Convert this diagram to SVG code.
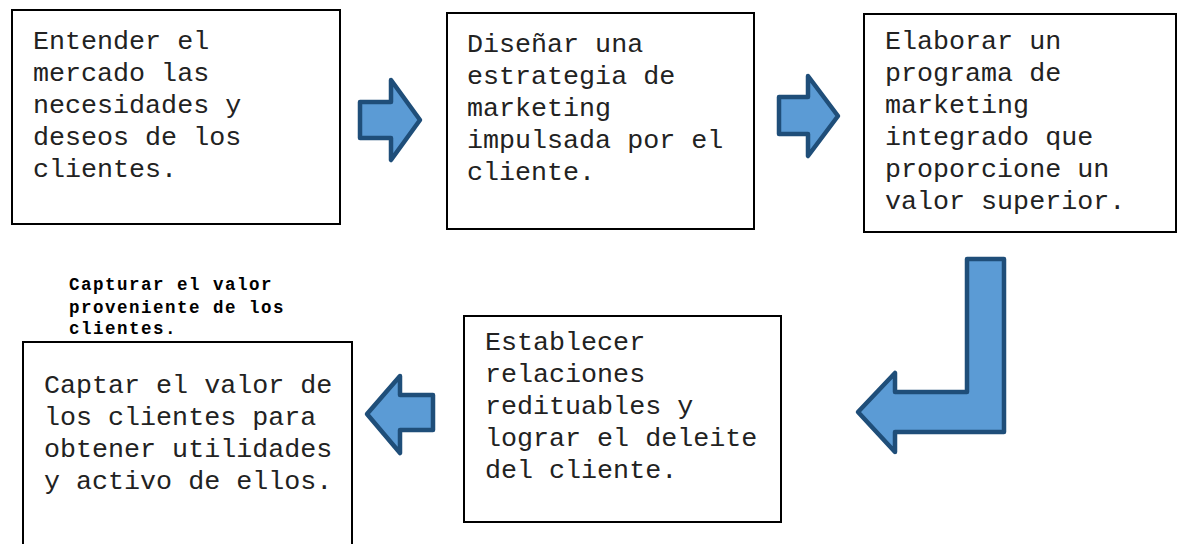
<svg xmlns="http://www.w3.org/2000/svg" width="1183" height="544" viewBox="0 0 1183 544">
<style>
.box{fill:#fff;stroke:#000;stroke-width:2}
.t{font-family:"Liberation Mono","Courier New",monospace;font-size:26.7px;fill:#222}
.lbl{font-family:"Liberation Mono","Courier New",monospace;font-size:17.5px;font-weight:bold;letter-spacing:1.5px;fill:#000}
.arr{fill:#5B9BD5;stroke:#1F4E79;stroke-width:4.5;stroke-linejoin:round}
</style>
<rect width="1183" height="544" fill="#fff"/>
<g id="n1">
<rect class="box" x="12" y="10" width="328" height="214"/>
<text class="t" x="33" y="49">Entender el</text>
<text class="t" x="33" y="81">mercado las</text>
<text class="t" x="33" y="113">necesidades y</text>
<text class="t" x="33" y="145">deseos de los</text>
<text class="t" x="33" y="177">clientes.</text>
</g>
<g id="n2">
<rect class="box" x="447" y="13" width="307" height="216"/>
<text class="t" x="467" y="52">Diseñar una</text>
<text class="t" x="467" y="84">estrategia de</text>
<text class="t" x="467" y="116">marketing</text>
<text class="t" x="467" y="148">impulsada por el</text>
<text class="t" x="467" y="180">cliente.</text>
</g>
<g id="n3">
<rect class="box" x="864" y="14" width="312" height="218"/>
<text class="t" x="885" y="49">Elaborar un</text>
<text class="t" x="885" y="81">programa de</text>
<text class="t" x="885" y="113">marketing</text>
<text class="t" x="885" y="145">integrado que</text>
<text class="t" x="885" y="177">proporcione un</text>
<text class="t" x="885" y="209">valor superior.</text>
</g>
<g id="n4">
<rect class="box" x="464" y="316" width="317" height="206"/>
<text class="t" x="485" y="350">Establecer</text>
<text class="t" x="485" y="382">relaciones</text>
<text class="t" x="485" y="414">redituables y</text>
<text class="t" x="485" y="446">lograr el deleite</text>
<text class="t" x="485" y="478">del cliente.</text>
</g>
<g id="n5">
<rect class="box" x="23" y="342" width="329" height="215"/>
<text class="t" x="44" y="393">Captar el valor de</text>
<text class="t" x="44" y="425">los clientes para</text>
<text class="t" x="44" y="457">obtener utilidades</text>
<text class="t" x="44" y="489">y activo de ellos.</text>
</g>
<g id="label">
<text class="lbl" x="69" y="290">Capturar el valor</text>
<text class="lbl" x="69" y="313">proveniente de los</text>
<text class="lbl" x="69" y="334">clientes.</text>
</g>
<g id="connectors">
<path class="arr" d="M360,102 H391 V80 L420,120 L391,160 V138 H360 Z"/>
<path class="arr" d="M779,97 H808 V76 L838,116 L808,156 V134 H779 Z"/>
<path class="arr" d="M967,259 H1004 V432 H895 V452 L858,412 L895,373 V392 H967 Z"/>
<path class="arr" d="M433,395 H400 V376 L367,414 L400,453 V430 H433 Z"/>
</g>
</svg>
